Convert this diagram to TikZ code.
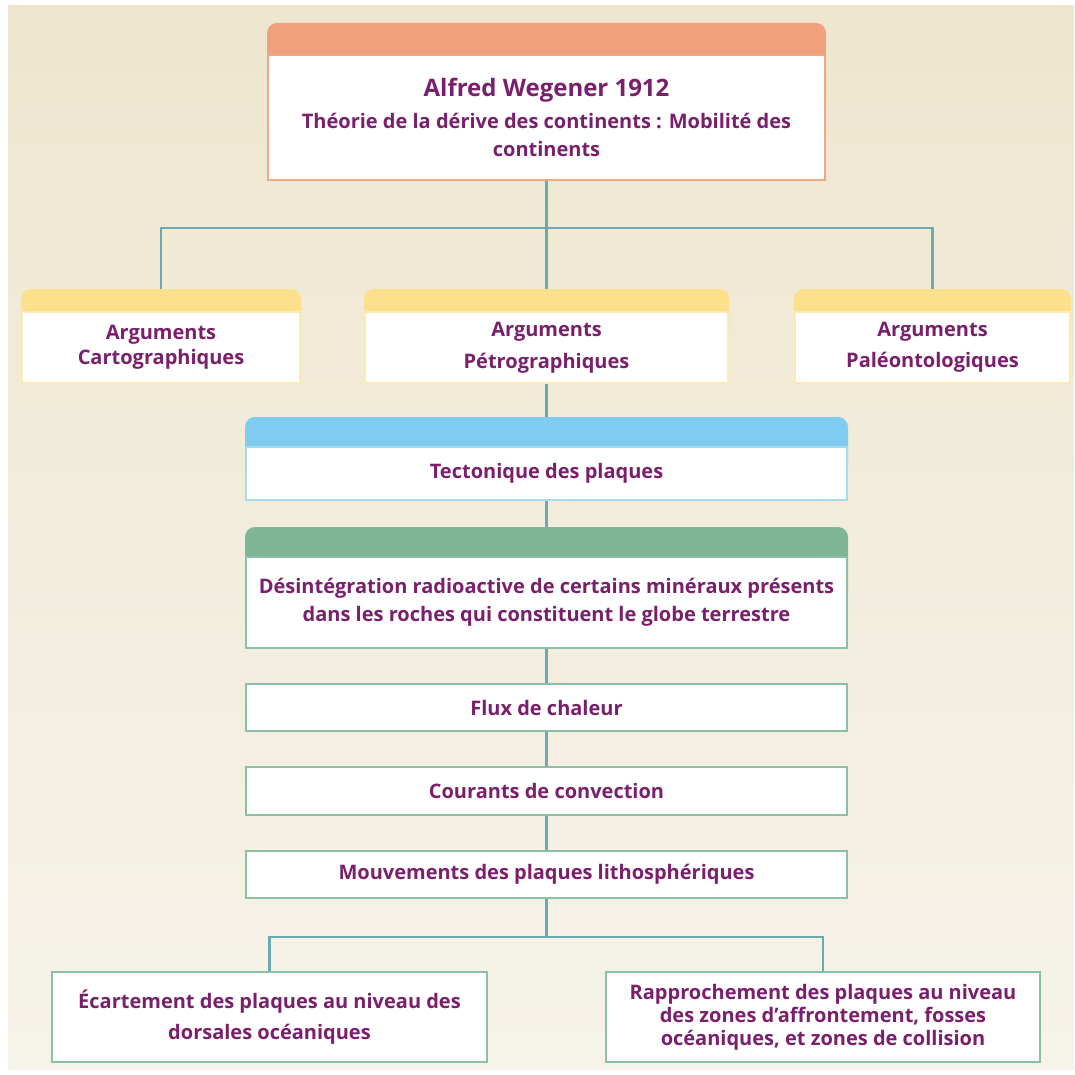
\documentclass[tikz,border=0pt]{standalone}
\usepackage{fontspec}
\setmainfont{Open Sans}
\pgfdeclarelayer{paper}
\pgfdeclarelayer{links}
\pgfsetlayers{paper,links,main}
\definecolor{bgTop}{HTML}{EEE6CE}
\definecolor{bgBot}{HTML}{F6F3EA}
\definecolor{txt}{HTML}{7A1F6C}
\definecolor{conncol}{HTML}{6BA9B3}
\definecolor{orH}{HTML}{F0A07C}
\definecolor{orB}{HTML}{F0A884}
\definecolor{yeH}{HTML}{FCE08C}
\definecolor{yeB}{HTML}{FAEBB2}
\definecolor{blH}{HTML}{80CCF0}
\definecolor{blB}{HTML}{A8DAEE}
\definecolor{grH}{HTML}{7FB796}
\definecolor{grB}{HTML}{8CC0A4}
\tikzset{
  box/.style={draw=#1, fill=white, line width=2pt, inner sep=0pt, align=center,
    text=txt, font=\fontsize{20}{28}\selectfont\bfseries},
  conn/.style={draw=conncol, line width=2.5pt},
}
\begin{document}
\begin{tikzpicture}[x=1pt,y=-1pt]
\useasboundingbox (0,0) rectangle (1074,1075);
\begin{pgfonlayer}{paper}
\fill[white] (0,0) rectangle (1074,1075);
\shade[top color=bgTop, bottom color=bgBot] (8,6) rectangle (1074,1069);
\end{pgfonlayer}

% nodes
\node[box=orB, minimum width=557pt, minimum height=125pt] (top) at (546.5,117.5)
  {{\fontsize{24}{26}\selectfont Alfred Wegener 1912}\\[4pt]
   Théorie de la dérive des continents : Mobilité des\\ continents};
\node[box=yeB, minimum width=278pt, minimum height=71pt, font=\fontsize{20}{25}\selectfont\bfseries] (cart) at (161,347.5)
  {Arguments\\ Cartographiques};
\node[box=yeB, minimum width=363pt, minimum height=71pt, font=\fontsize{20}{32}\selectfont\bfseries] (petro) at (546.5,347.5)
  {Arguments\\ Pétrographiques};
\node[box=yeB, minimum width=275pt, minimum height=71pt, font=\fontsize{20}{31}\selectfont\bfseries] (paleo) at (932.5,347.5)
  {Arguments\\ Paléontologiques};
\node[box=blB, minimum width=601pt, minimum height=53pt] (tect) at (546.5,473.5)
  {Tectonique des plaques};
\node[box=grB, minimum width=601pt, minimum height=91pt] (desint) at (546.5,602.5)
  {Désintégration radioactive de certains minéraux présents\\ dans les roches qui constituent le globe terrestre};
\node[box=grB, minimum width=601pt, minimum height=47pt] (flux) at (546.5,707.5)
  {Flux de chaleur};
\node[box=grB, minimum width=601pt, minimum height=48pt] (cour) at (546.5,791)
  {Courants de convection};
\node[box=grB, minimum width=601pt, minimum height=47pt] (mouv) at (546.5,874.5)
  {Mouvements des plaques lithosphériques};
\node[box=grB, minimum width=435pt, minimum height=90pt, font=\fontsize{20}{31}\selectfont\bfseries] (ecart) at (269.5,1017)
  {Écartement des plaques au niveau des\\ dorsales océaniques};
\node[box=grB, minimum width=434pt, minimum height=90pt, font=\fontsize{20}{23}\selectfont\bfseries] (rappr) at (823,1017)
  {Rapprochement des plaques au niveau\\ des zones d’affrontement, fosses\\ océaniques, et zones de collision};

\coordinate (j1) at (546.5,228);
\coordinate (j2) at (546.5,937);

\begin{pgfonlayer}{links}
  \draw[conn] (top.south) -- (j1) -| (cart.north);
  \draw[conn] (j1) -| (paleo.north);
  \draw[conn] (j1) -- (petro.north);
  \draw[conn] (petro.south) -- (tect.north);
  \draw[conn] (tect.south) -- (desint.north);
  \draw[conn] (desint.south) -- (flux.north);
  \draw[conn] (flux.south) -- (cour.north);
  \draw[conn] (cour.south) -- (mouv.north);
  \draw[conn] (mouv.south) -- (j2) -| (ecart.north);
  \draw[conn] (j2) -| (rappr.north);
  % headers
  \fill[orH, rounded corners=10pt] ([yshift=31pt]top.north west) rectangle (top.east);
  \fill[yeH, rounded corners=10pt] ([yshift=22pt]cart.north west) rectangle (cart.east);
  \fill[yeH, rounded corners=10pt] ([yshift=22pt]petro.north west) rectangle (petro.east);
  \fill[yeH, rounded corners=10pt] ([yshift=22pt]paleo.north west) rectangle (paleo.east);
  \fill[blH, rounded corners=10pt] ([yshift=29pt]tect.north west) rectangle (tect.east);
  \fill[grH, rounded corners=10pt] ([yshift=29pt]desint.north west) rectangle (desint.east);
\end{pgfonlayer}
\end{tikzpicture}
\end{document}
